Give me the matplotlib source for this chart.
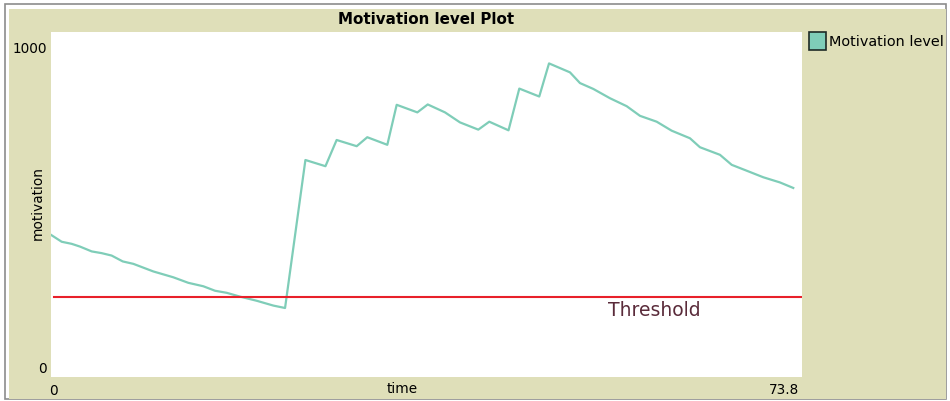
import numpy as np
import matplotlib
matplotlib.use("Agg")
from matplotlib import pyplot as plt
from matplotlib.patches import Rectangle

plt.rcParams['font.family'] = ['DejaVu Sans']

# time (ticks) and motivation values
time = [0, 1.05, 2.03, 2.85, 4.0, 4.98, 5.96, 7.05, 8.09, 10.05, 12.02, 13.49,
        14.97, 16.12, 17.27, 18.57, 20.21, 21.85, 23.0, 25.0, 26.97, 28.07,
        30.04, 31.08, 33.05, 33.97, 36.0, 37.02, 38.72, 40.19, 41.99, 43.07,
        44.96, 46.02, 47.98, 48.94, 51.0, 51.98, 53.29, 54.93, 56.57, 57.88,
        59.52, 60.99, 62.79, 63.77, 65.74, 66.89, 68.36, 69.99, 71.63, 72.94]
motivation = [412, 392, 386, 378, 364, 359, 352, 335, 328, 306, 289, 273,
              263, 250, 244, 233, 221, 207, 200, 629, 611, 687,
              669, 695, 673, 789, 767, 790, 767, 738, 717, 740,
              715, 836, 813, 909, 883, 852, 835, 808, 785, 757,
              740, 714, 692, 666, 644, 615, 598, 579, 564, 548]
threshold = 232
x_max = 73.8
y_max = 1000

W, H = 950, 402
KHAKI = '#dfdfb9'
LINE_C = '#7fcdb8'


def fx(x):
    return x / W


def fy(y):
    return 1 - y / H


fig = plt.figure(figsize=(W / 100, H / 100), dpi=100, facecolor='white')

# widget frame
fig.patches.append(Rectangle((fx(5), fy(400)), fx(941), 395 / H, transform=fig.transFigure,
                             facecolor='white', edgecolor='#8c8c8c', lw=1.2, zorder=-3))
fig.patches.append(Rectangle((fx(9), fy(399.5)), fx(936.5), 390 / H, transform=fig.transFigure,
                             facecolor=KHAKI, edgecolor='none', zorder=-2))

ax = fig.add_axes([fx(51), fy(378), fx(751), 345 / H])
ax.set_facecolor('white')
ax.plot(time, motivation, color=LINE_C, lw=1.6)
ax.axhline(threshold, xmin=0.004, xmax=1, color='#e8202a', lw=1.5)
ax.set_xlim(0, x_max)
ax.set_ylim(0, y_max)
ax.set_xticks([])
ax.set_yticks([])
for s in ax.spines.values():
    s.set_visible(False)

ax.text(0.742, 0.196, 'Threshold', transform=ax.transAxes, color='#5a2b3a',
        fontsize=13.5, ha='left', va='center')

fs = 9.8
fig.text(fx(426), fy(19), 'Motivation level Plot', ha='center', va='center',
         fontsize=10.9, fontweight='bold')
fig.text(fx(47), fy(49), '1000', ha='right', va='center', fontsize=fs)
fig.text(fx(47), fy(369), '0', ha='right', va='center', fontsize=fs)
fig.text(fx(49), fy(391), '0', ha='left', va='center', fontsize=fs)
fig.text(fx(799), fy(390), '73.8', ha='right', va='center', fontsize=fs)
fig.text(fx(402), fy(389), 'time', ha='center', va='center', fontsize=fs)
fig.text(fx(38), fy(203), 'motivation', ha='center', va='center', fontsize=fs, rotation=90)

# legend
fig.patches.append(Rectangle((fx(808.5), fy(50.5)), fx(17), 18 / H, transform=fig.transFigure,
                             facecolor=LINE_C, edgecolor='#1e2a26', lw=1.2, zorder=3))
fig.text(fx(829), fy(42), 'Motivation level', ha='left', va='center', fontsize=10.4)

fig.savefig('out.png', dpi=100, facecolor=fig.get_facecolor())
